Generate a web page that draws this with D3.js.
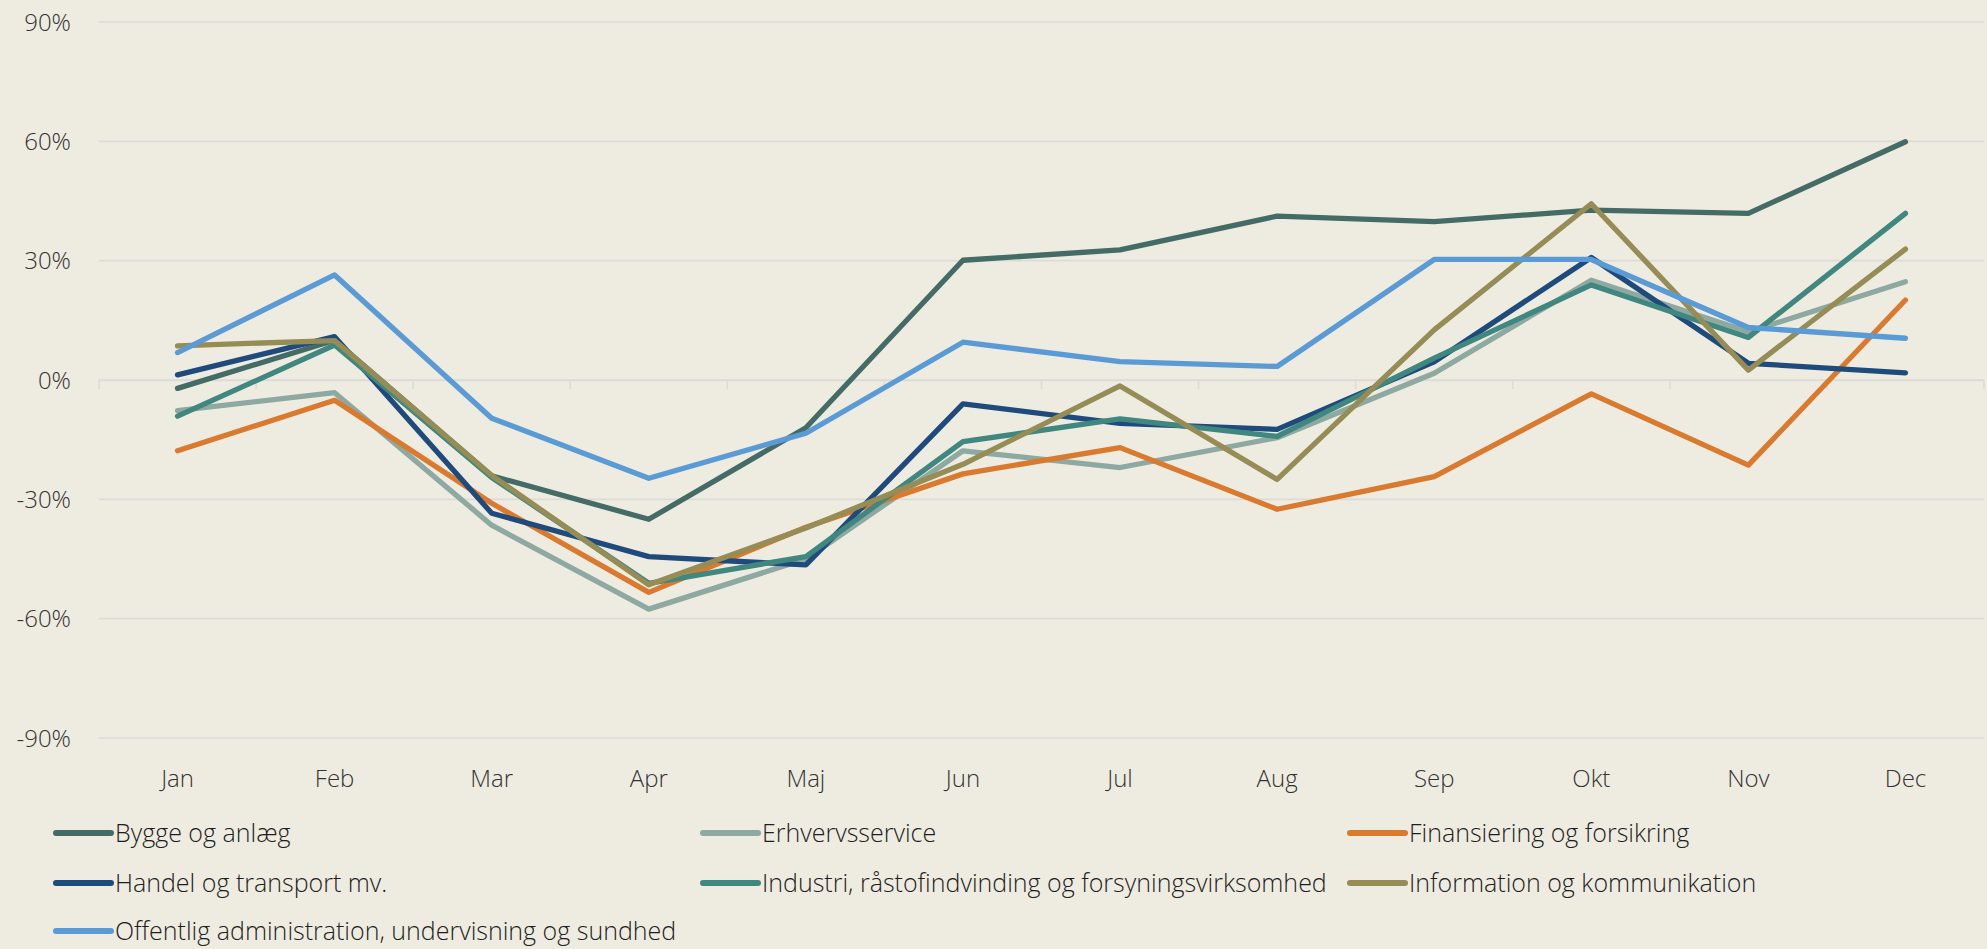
<!DOCTYPE html>
<html lang="da">
<head>
<meta charset="utf-8" />
<title>Månedlig ændring pr. branche</title>
<script src="https://d3js.org/d3.v7.min.js"></script>
<style>
  body{margin:0;background:#eeece1;overflow:hidden;}
  svg{display:block;font-family:"Open Sans",sans-serif;font-weight:300;}
  .grid line{stroke:#dcdbd8;stroke-width:1.6px;}
</style>
</head>
<body>
<svg id="chart" width="1987" height="949"></svg>
<script>
// -------- DATA --------
const months=['Jan','Feb','Mar','Apr','Maj','Jun','Jul','Aug','Sep','Okt','Nov','Dec'];
const yTicks=[-90,-60,-30,0,30,60,90];

const bygge      =[-2.1, 10.0,-24.1,-35.0,-12.0, 30.1, 32.7, 41.2, 39.8, 42.7, 41.9, 59.9];
const erhverv    =[-7.7, -3.2,-36.5,-57.6,-45.0,-17.8,-22.0,-14.5,  1.7, 25.1, 12.1, 24.7];
const finans     =[-17.8,-5.1,-31.0,-53.4,-37.0,-23.6,-17.0,-32.5,-24.3, -3.5,-21.4, 20.1];
const handel     =[ 1.3, 10.9,-33.5,-44.4,-46.5, -6.0,-10.9,-12.4,  4.6, 30.8,  4.2,  1.8];
const industri   =[-9.1,  8.8,-24.5,-51.1,-44.4,-15.5, -9.8,-14.2,  5.5, 23.9, 10.7, 41.9];
const information=[ 8.6,  9.9,-24.0,-51.5,-37.2,-21.2, -1.5,-25.0, 12.6, 44.3,  2.5, 32.9];
const offentlig  =[ 6.9, 26.4, -9.6,-24.7,-13.4,  9.5,  4.6,  3.4, 30.3, 30.3, 13.2, 10.5];

const series=[
  {name:'Bygge og anlæg',values:bygge,color:'#456b66'},
  {name:'Erhvervsservice',values:erhverv,color:'#8ea8a2'},
  {name:'Finansiering og forsikring',values:finans,color:'#d97a2f'},
  {name:'Handel og transport mv.',values:handel,color:'#1f4a7c'},
  {name:'Industri, råstofindvinding og forsyningsvirksomhed',values:industri,color:'#3f877f'},
  {name:'Information og kommunikation',values:information,color:'#958c56'},
  {name:'Offentlig administration, undervisning og sundhed',values:offentlig,color:'#5b9bd5'}
];

// -------- LAYOUT --------
const plot={left:99,right:1984,top:22,bottom:738};
const svg=d3.select('#chart');

const x=d3.scaleBand().domain(months).range([plot.left,plot.right]).padding(0);
const y=d3.scaleLinear().domain([-90,90]).range([plot.bottom,plot.top]);
const cx=m=>x(m)+x.bandwidth()/2;

// gridlines
svg.append('g').attr('class','grid')
  .selectAll('line').data(yTicks).join('line')
  .attr('x1',plot.left).attr('x2',plot.right)
  .attr('y1',d=>y(d)).attr('y2',d=>y(d));

// y labels
svg.append('g').selectAll('text').data(yTicks).join('text')
  .attr('x',71).attr('y',d=>y(d)).attr('dy','0.36em')
  .attr('text-anchor','end').attr('font-size',24).attr('fill','#333')
  .text(d=>d+'%');

// category axis at 0% with tick marks between categories
const xAxis=d3.axisBottom(x).tickSize(0).tickPadding(0).tickSizeOuter(0);
const ax=svg.append('g').attr('transform',`translate(0,${y(0)})`).call(xAxis);
ax.select('.domain').attr('stroke','#dcdbd8').attr('stroke-width',1.6);
ax.selectAll('.tick text').remove();
svg.append('g').selectAll('line').data(d3.range(months.length+1)).join('line')
  .attr('x1',i=>plot.left+i*x.bandwidth()).attr('x2',i=>plot.left+i*x.bandwidth())
  .attr('y1',y(0)).attr('y2',y(0)+9)
  .attr('stroke','#dcdbd8').attr('stroke-width',1.6);

// month labels below plot
svg.append('g').selectAll('text').data(months).join('text')
  .attr('x',d=>cx(d)).attr('y',787)
  .attr('text-anchor','middle').attr('font-size',24).attr('fill','#333')
  .text(d=>d);

// lines
const line=d3.line().x((d,i)=>cx(months[i])).y(d=>y(d));
svg.append('g').selectAll('path').data(series).join('path')
  .attr('d',d=>line(d.values))
  .attr('fill','none').attr('stroke',d=>d.color).attr('stroke-width',5.3)
  .attr('stroke-linejoin','round').attr('stroke-linecap','round');

// legend
const colX=[56,703,1350], rowY=[833,883,931];
const leg=svg.append('g').selectAll('g').data(series).join('g')
  .attr('transform',(d,i)=>`translate(${colX[i%3]},${rowY[Math.floor(i/3)]})`);
leg.append('line').attr('x1',0).attr('x2',55).attr('y1',0).attr('y2',0)
  .attr('stroke',d=>d.color).attr('stroke-width',6).attr('stroke-linecap','round');
leg.append('text').attr('x',59).attr('dy','0.34em')
  .attr('font-size',25).attr('fill','#1e1e1e')
  .text(d=>d.name);
</script>
</body>
</html>
